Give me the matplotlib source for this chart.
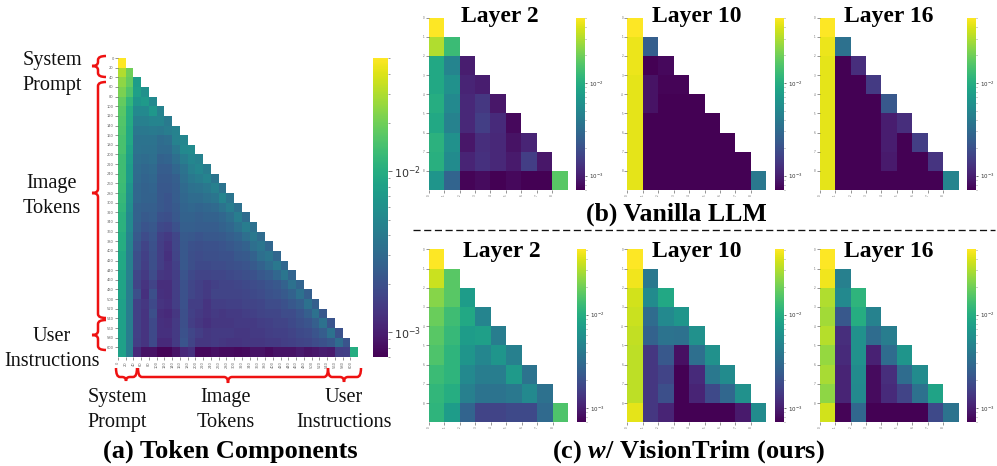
#!/usr/bin/env python3
# -*- coding: utf-8 -*-

import numpy as np
import matplotlib
matplotlib.use('Agg')
import matplotlib.pyplot as plt
from matplotlib.colors import LogNorm
from matplotlib.patches import PathPatch
from matplotlib.path import Path
from matplotlib.ticker import NullFormatter

W, H = 997, 466
SERIF = 'Liberation Serif'
RED = '#ee1111'

plt.rcParams['mathtext.fontset'] = 'custom'
plt.rcParams['mathtext.it'] = 'Liberation Serif:italic:bold'
plt.rcParams['mathtext.rm'] = 'Liberation Serif:bold'

# log colour scale shared by all panels
VMIN, VMAX = 10 ** -3.155, 10 ** -1.298

# cell values, read as percent position along the colour bar
token_components = [
    [100],
    [88, 78],
    [83, 76, 55],
    [80, 72, 56, 50],
    [76, 66, 52, 54, 47],
    [74, 62, 47, 47, 53, 44],
    [73, 61, 43, 43, 45, 45, 41],
    [72, 60, 40, 40, 41, 40, 42, 44],
    [71, 60, 38, 38, 38, 35, 36, 44, 46],
    [71, 58, 38, 37, 37, 34, 34, 40, 47, 48],
    [69, 56, 36, 35, 36, 31, 32, 36, 42, 46, 44],
    [69, 55, 35, 33, 34, 29, 29, 33, 38, 43, 46, 42],
    [69, 55, 34, 32, 33, 28, 28, 30, 36, 40, 42, 45, 39],
    [68, 52, 33, 31, 32, 27, 27, 29, 34, 37, 38, 40, 43, 38],
    [67, 50, 33, 31, 31, 27, 26, 29, 33, 35, 35, 37, 39, 45, 39],
    [66, 49, 31, 30, 30, 27, 26, 28, 32, 33, 32, 33, 34, 38, 42, 37],
    [64, 47, 31, 28, 29, 25, 24, 27, 31, 31, 30, 31, 31, 33, 36, 42, 35],
    [64, 47, 30, 26, 27, 22, 21, 25, 30, 30, 29, 29, 29, 31, 33, 37, 42, 37],
    [62, 45, 28, 23, 26, 19, 17, 21, 28, 27, 26, 27, 27, 28, 30, 32, 36, 40, 35],
    [62, 44, 26, 20, 25, 18, 15, 21, 27, 25, 24, 25, 25, 26, 27, 29, 31, 36, 39, 33],
    [60, 43, 24, 19, 24, 18, 14, 20, 27, 24, 23, 24, 24, 25, 25, 27, 28, 31, 36, 39, 33],
    [60, 43, 24, 18, 24, 18, 15, 19, 27, 24, 22, 22, 23, 23, 24, 25, 26, 28, 31, 35, 40, 33],
    [58, 43, 21, 17, 23, 16, 15, 18, 26, 22, 20, 20, 21, 21, 22, 23, 24, 25, 27, 29, 33, 39, 32],
    [58, 42, 20, 15, 20, 13, 13, 18, 25, 21, 19, 17, 19, 20, 20, 21, 22, 23, 24, 26, 27, 31, 37, 32],
    [58, 42, 24, 14, 24, 14, 13, 18, 25, 21, 19, 17, 20, 20, 20, 20, 21, 22, 23, 25, 26, 28, 31, 37, 30],
    [57, 42, 19, 16, 22, 15, 14, 18, 25, 18, 18, 15, 18, 18, 19, 19, 20, 20, 21, 23, 23, 25, 27, 30, 37, 30],
    [57, 42, 19, 15, 24, 13, 12, 16, 24, 19, 17, 15, 17, 16, 17, 17, 18, 19, 20, 21, 21, 23, 23, 26, 30, 37, 27],
    [57, 42, 19, 15, 22, 14, 13, 17, 24, 18, 16, 14, 16, 16, 16, 17, 17, 17, 18, 19, 20, 20, 22, 24, 26, 30, 37, 26],
    [57, 42, 19, 15, 22, 14, 14, 17, 25, 21, 18, 16, 17, 17, 17, 16, 16, 17, 17, 18, 19, 19, 20, 22, 23, 26, 29, 37, 25],
    [57, 42, 18, 15, 22, 12, 12, 17, 26, 20, 16, 16, 17, 16, 15, 15, 16, 16, 16, 17, 17, 18, 19, 20, 21, 23, 25, 27, 35, 26],
    [57, 42, 12, 5, 5, 1, 1, 5, 11, 14, 2, 2, 4, 3, 3, 2, 3, 5, 5, 3, 5, 5, 5, 7, 5, 6, 8, 7, 18, 19, 62],
]

vanilla_l2 = [
    [100],
    [88, 68],
    [60, 45, 8],
    [60, 50, 10, 8],
    [62, 47, 11, 16, 6],
    [60, 44, 11, 18, 12, 2],
    [64, 50, 6, 13, 11, 5, 10],
    [63, 48, 10, 14, 11, 7, 18, 6],
    [52, 32, 1, 3, 0, 2, 0, 0, 74],
]
vanilla_l10 = [
    [100],
    [97, 30],
    [97, 0, 2],
    [96, 5, 1, 1],
    [96, 5, 0, 0, 0],
    [96, 0, 0, 0, 0, 0],
    [96, 0, 0, 0, 0, 0, 0],
    [96, 0, 0, 0, 0, 0, 0, 0],
    [96, 0, 0, 0, 0, 0, 0, 0, 40],
]
vanilla_l16 = [
    [100],
    [97, 37],
    [96, 0, 13],
    [96, 0, 0, 17],
    [96, 0, 0, 0, 27],
    [96, 0, 0, 0, 8, 13],
    [96, 0, 0, 0, 8, 0, 18],
    [96, 0, 0, 0, 7, 0, 0, 15],
    [96, 0, 0, 0, 0, 0, 0, 0, 45],
]
ours_l2 = [
    [100],
    [92, 74],
    [82, 74, 55],
    [77, 69, 60, 45],
    [74, 67, 55, 56, 42],
    [72, 65, 52, 46, 52, 43],
    [68, 65, 47, 42, 42, 54, 38],
    [66, 62, 43, 38, 38, 40, 47, 37],
    [65, 55, 32, 20, 20, 22, 22, 34, 72],
]
ours_l10 = [
    [100],
    [98, 40],
    [93, 48, 60],
    [92, 35, 47, 52],
    [91, 31, 38, 37, 50],
    [90, 16, 27, 4, 36, 50],
    [90, 16, 20, 0, 12, 40, 48],
    [90, 16, 24, 0, 10, 22, 33, 50],
    [96, 16, 10, 0, 0, 0, 0, 7, 48],
]
ours_l16 = [
    [100],
    [98, 43],
    [88, 47, 65],
    [86, 27, 62, 44],
    [89, 13, 50, 35, 42],
    [84, 12, 50, 9, 35, 52],
    [87, 10, 48, 3, 13, 35, 48],
    [83, 10, 47, 3, 12, 20, 37, 58],
    [93, 1, 33, 0, 0, 0, 0, 22, 38],
]

big_tick_labels = [str(20 * i) for i in range(31)]
small_tick_labels = [str(i) for i in range(9)]

fig = plt.figure(figsize=(W / 100, H / 100), dpi=100)
norm = LogNorm(vmin=VMIN, vmax=VMAX)


def px_axes(x0, y0, x1, y1):
    """Axes from a pixel box, y counted from the top."""
    return fig.add_axes([x0 / W, 1 - y1 / H, (x1 - x0) / W, (y1 - y0) / H])


def heatmap(rows, box, cbox, tick_labels, tick_size, bar_size, bar_tick):
    n = len(rows)
    grid = np.full((n, n), np.nan)
    for i, row in enumerate(rows):
        grid[i, :len(row)] = norm.inverse(np.array(row) / 100)

    ax = px_axes(*box)
    mesh = ax.pcolormesh(np.arange(n + 1), np.arange(n + 1), grid,
                         cmap='viridis', norm=norm)
    ax.set_xlim(0, n)
    ax.set_ylim(n, 0)
    for s in ax.spines.values():
        s.set_visible(False)
    ax.set_xticks(np.arange(n))
    ax.set_yticks(np.arange(n))
    ax.set_xticklabels(tick_labels, rotation=90)
    ax.set_yticklabels(tick_labels)
    ax.tick_params(length=2, width=0.4, pad=1, labelsize=tick_size,
                   color='#444444', labelcolor='#666666')

    cax = px_axes(*cbox)
    cb = fig.colorbar(mesh, cax=cax)
    cb.outline.set_visible(False)
    cb.minorticks_on()
    cb.ax.yaxis.set_minor_formatter(NullFormatter())
    cb.ax.tick_params(which='major', length=bar_tick, width=0.5,
                      labelsize=bar_size, pad=1.5, color='#333333',
                      labelcolor='#333333')
    cb.ax.tick_params(which='minor', length=bar_tick * 0.6, width=0.4,
                      color='#555555')


heatmap(token_components, (118, 58, 358, 357), (373, 58, 388, 357),
        big_tick_labels, 2.6, 8, 3)

panels = [
    (vanilla_l2, 428.7, 576), (vanilla_l10, 627.3, 775.3), (vanilla_l16, 819.7, 967.3),
]
for rows, x, cx in panels:
    heatmap(rows, (x, 17.7, x + 139, 190), (cx, 17.7, cx + 9, 190),
            small_tick_labels, 2, 4, 1.5)

panels = [
    (ours_l2, 429, 577), (ours_l10, 627.3, 775.3), (ours_l16, 819.7, 967.3),
]
for rows, x, cx in panels:
    heatmap(rows, (x, 249.3, x + 139, 422.3), (cx, 249.3, cx + 9, 422.3),
            small_tick_labels, 2, 4, 1.5)

# overlay in pixel coordinates for labels and braces
over = fig.add_axes([0, 0, 1, 1], zorder=5)
over.set_xlim(0, W)
over.set_ylim(H, 0)
over.axis('off')
over.patch.set_alpha(0)


def brace(a, b, mid, spine, tip, end, vertical):
    r = min(4, (b - a) / 4)
    along = [a, a, a + r, mid - r, mid, mid, mid, mid + r, b - r, b, b]
    cross = [end, spine, spine, spine, spine, tip, spine, spine, spine, spine, end]
    codes = [Path.MOVETO, Path.CURVE3, Path.CURVE3, Path.LINETO, Path.CURVE3,
             Path.CURVE3, Path.CURVE3, Path.CURVE3, Path.LINETO, Path.CURVE3,
             Path.CURVE3]
    pts = list(zip(cross, along)) if vertical else list(zip(along, cross))
    over.add_patch(PathPatch(Path(pts, codes), fc='none', ec=RED, lw=1.8))


brace(56, 77, 66, 98, 92, 106, True)
brace(82, 318, 193, 98, 92, 106, True)
brace(320, 350, 335, 98, 92, 106, True)
brace(116, 137, 126, 377, 381, 368, False)
brace(138, 328, 228, 377, 383, 368, False)
brace(328, 361, 344, 377, 382, 368, False)

labels = [
    (52, 73, 'System\nPrompt'),
    (52, 196, 'Image\nTokens'),
    (52, 349, 'User\nInstructions'),
    (117, 410, 'System\nPrompt'),
    (226, 410, 'Image\nTokens'),
    (344, 410, 'User\nInstructions'),
]
for x, y, s in labels:
    over.text(x, y, s, family=SERIF, fontsize=14.6, ha='center', va='center',
              linespacing=1.4, color='#111111')

titles = [(500, 16.5), (697, 16.5), (889, 16.5), (502, 252), (697, 252), (889, 252)]
for (x, y), s in zip(titles, ['Layer 2', 'Layer 10', 'Layer 16'] * 2):
    over.text(x, y, s, family=SERIF, weight='bold', fontsize=17, ha='center',
              va='center', color='black')

for x, y, s, size in [(230, 451, '(a) Token Components', 19),
                      (676, 214, '(b) Vanilla LLM', 18.5),
                      (688, 452, r'(c) $\mathit{w/}$ VisionTrim (ours)', 19)]:
    over.text(x, y, s, family=SERIF, weight='bold', fontsize=size, ha='center',
              va='center', color='black')

over.plot([413, 995], [229.5, 229.5], color='#111111', lw=0.95, ls=(0, (5.4, 2.7)))

fig.savefig('out.png', dpi=100)
